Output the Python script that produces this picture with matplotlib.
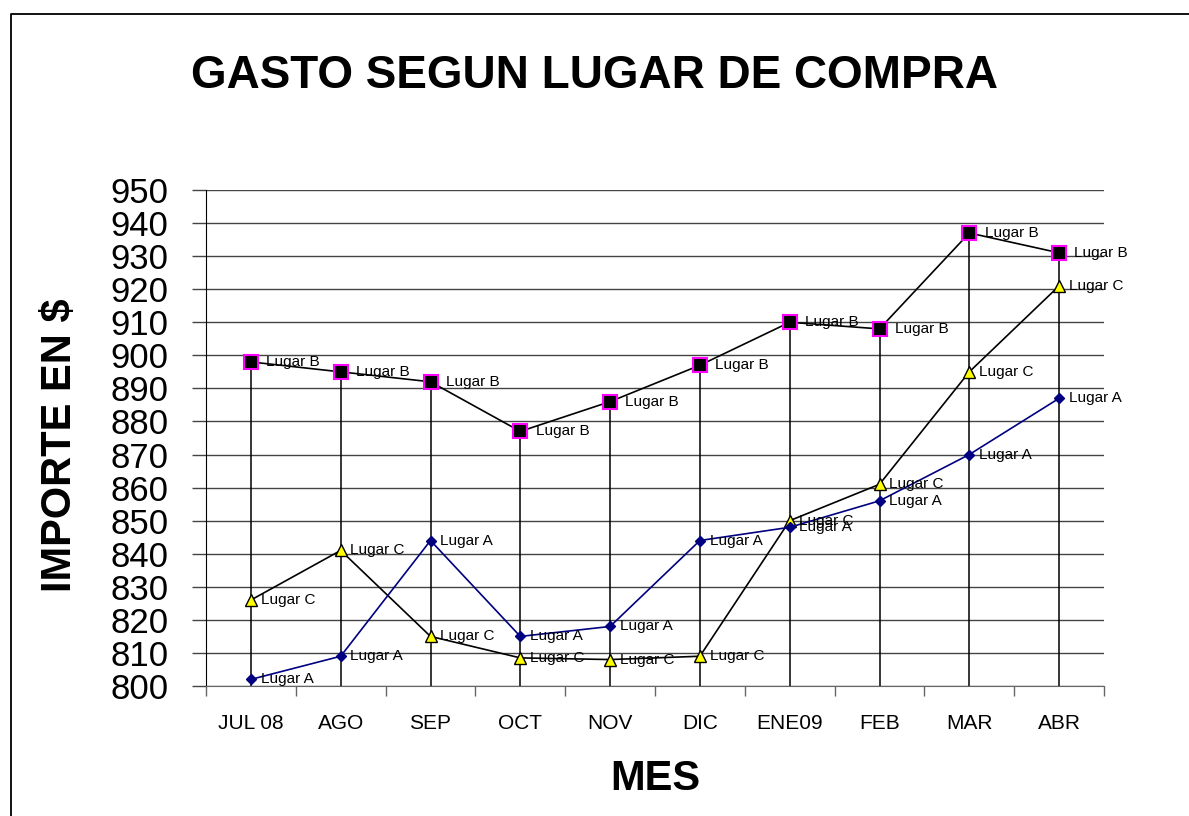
import matplotlib
matplotlib.use("Agg")
import matplotlib.pyplot as plt
from matplotlib.lines import Line2D
import numpy as np

plt.rcParams['font.family'] = ['Liberation Sans', 'DejaVu Sans']

meses = ["JUL 08", "AGO", "SEP", "OCT", "NOV", "DIC", "ENE09", "FEB", "MAR", "ABR"]
lugar_a = [802, 809, 844, 815, 818, 844, 848, 856, 870, 887]
lugar_b = [898, 895, 892, 877, 886, 897, 910, 908, 937, 931]
lugar_c = [826, 841, 815, 808.5, 808, 809, 850, 861, 895, 921]
y_ticks = list(range(800, 951, 10))

W, H = 1189, 816
fig = plt.figure(figsize=(W / 100, H / 100), dpi=100)
fig.patch.set_facecolor("white")
ax = fig.add_axes([206 / W, 1 - 686 / H, (1104 - 206) / W, (686 - 190) / H])

x = np.arange(len(meses))

# drop lines
tops = np.maximum(np.maximum(lugar_a, lugar_b), lugar_c)
ax.vlines(x, 800, tops, colors="black", linewidth=1.1, zorder=2)

ax.plot(x, lugar_b, color="black", linewidth=1.2, marker="s", markersize=10,
        markerfacecolor="black", markeredgecolor="#ff00ff", markeredgewidth=1.5, zorder=4)
ax.plot(x, lugar_c, color="black", linewidth=1.2, marker="^", markersize=8,
        markerfacecolor="#ffff00", markeredgecolor="black", markeredgewidth=1.0, zorder=4)
ax.plot(x, lugar_a, color="#000080", linewidth=1.2, marker="D", markersize=5.5,
        markerfacecolor="#000080", markeredgecolor="#000080", zorder=4)

for xi, v in zip(x, lugar_b):
    ax.annotate("Lugar B", (xi, v), xytext=(11, 0), textcoords="offset points",
                va="center", ha="left", fontsize=11, zorder=5)
for xi, v in zip(x, lugar_c):
    ax.annotate("Lugar C", (xi, v), xytext=(7, 0), textcoords="offset points",
                va="center", ha="left", fontsize=11, zorder=5)
for xi, v in zip(x, lugar_a):
    ax.annotate("Lugar A", (xi, v), xytext=(7, 0), textcoords="offset points",
                va="center", ha="left", fontsize=11, zorder=5)

ax.set_xlim(-0.5, len(meses) - 0.5)
ax.set_ylim(800, 950)
ax.set_yticks(y_ticks)
ax.set_yticklabels([str(t) for t in y_ticks], fontsize=25)
ax.yaxis.grid(True, color="#444444", linewidth=1.0, zorder=1)
ax.set_axisbelow(True)
ax.tick_params(axis="y", direction="out", length=10, width=1, color="#444444", pad=17)

ax.set_xticks(np.arange(-0.5, len(meses), 1.0))
ax.set_xticklabels([])
ax.set_xticks(x, minor=True)
ax.set_xticklabels(meses, minor=True, fontsize=15)
ax.tick_params(axis="x", which="major", direction="out", length=7, width=1, color="#666666")
ax.tick_params(axis="x", which="minor", length=0, pad=20)

for s in ["top", "right"]:
    ax.spines[s].set_visible(False)
ax.spines["left"].set_color("black")
ax.spines["bottom"].set_color("#666666")

fig.text(0.5, 1 - 88 / H, "GASTO SEGUN LUGAR DE COMPRA", ha="center", va="baseline",
         fontsize=33, fontweight="bold")
fig.text(655 / W, 1 - 790 / H, "MES", ha="center", va="baseline", fontsize=30, fontweight="bold")
fig.text(60 / W, 1 - 445 / H, "IMPORTE EN $", ha="center", va="center", rotation=90,
         fontsize=30, fontweight="bold")

# outer border (top and left visible)
fig.add_artist(Line2D([10.5 / W, 10.5 / W, 1.0], [0, 1 - 13.5 / H, 1 - 13.5 / H],
                      transform=fig.transFigure, color="black", linewidth=1.3))

fig.savefig("out.png", dpi=100)
